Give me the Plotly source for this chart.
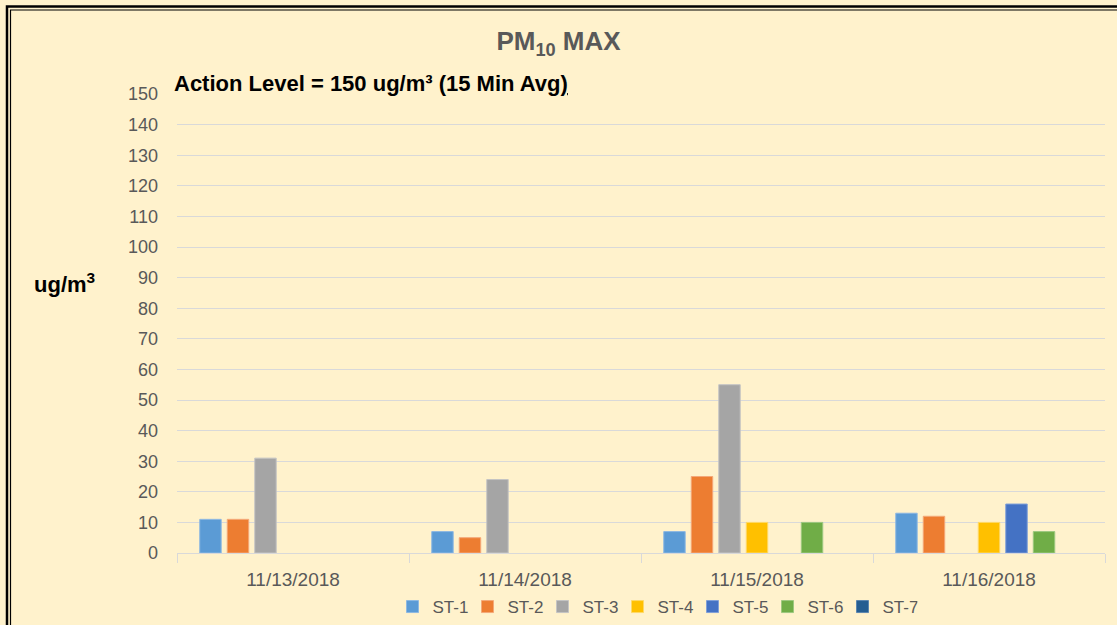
import plotly.graph_objects as go

dates = ["11/13/2018", "11/14/2018", "11/15/2018", "11/16/2018"]
stations = ["ST-1", "ST-2", "ST-3", "ST-4", "ST-5", "ST-6", "ST-7"]
st1 = [11, 7, 7, 13]
st2 = [11, 5, 25, 12]
st3 = [31, 24, 55, None]
st4 = [None, None, 10, 10]
st5 = [None, None, None, 16]
st6 = [None, None, 10, 7]
st7 = [None, None, None, None]
series = [st1, st2, st3, st4, st5, st6, st7]
colors = ["#5B9BD5", "#ED7D31", "#A5A5A5", "#FFC000", "#4472C4", "#70AD47", "#255E91"]
line_colors = ["#8DB8E2", "#F4A878", "#C4C4C4", "#FFD966", "#7F9FD8", "#9DC87F", "#5B86B0"]
y_ticks = list(range(0, 151, 10))

BG = "#FFF2CC"
FONT = "Liberation Sans, Arial, sans-serif"

fig = go.Figure()
for name, vals, c, lc in zip(stations, series, colors, line_colors):
    fig.add_trace(go.Bar(
        name=name, x=dates, y=vals,
        marker=dict(color=c, line=dict(color=lc, width=1)),
    ))

W, H = 1117, 625
L, R, T, B = 177, 12, 94, 72
pw, ph = W - L - R, H - T - B


def px(x):
    return (x - L) / pw


def py(y):
    return (H - B - y) / ph


fig.update_layout(
    width=W, height=H,
    margin=dict(l=L, r=R, t=T, b=B, autoexpand=False),
    paper_bgcolor=BG, plot_bgcolor=BG,
    barmode="group", bargap=0.17, bargroupgap=0.22,
    font=dict(family=FONT, color="#595959", size=18),
    title=dict(
        text="<b>PM<sub>10</sub> MAX</b>",
        x=0.5, xref="container", xanchor="center",
        y=1 - 41 / H, yref="container", yanchor="middle",
        font=dict(size=26, color="#595959", family=FONT),
    ),
    xaxis=dict(
        showgrid=False, showline=True, linecolor="#D9D9D9", linewidth=1,
        ticks="outside", tickson="boundaries", ticklen=9, tickcolor="#D9D9D9",
        tickfont=dict(size=19, color="#595959"), ticklabelstandoff=9,
    ),
    yaxis=dict(
        range=[0, 150], tickvals=y_ticks, showgrid=True, gridcolor="#D9D9D9",
        gridwidth=1, zeroline=False, showline=False,
        tickfont=dict(size=18, color="#595959"), ticklabelstandoff=18,
    ),
    legend=dict(
        orientation="h", x=px(655), xanchor="center",
        yref="container", y=1 - 607 / H, yanchor="middle",
        font=dict(size=17, color="#595959"), bgcolor="rgba(0,0,0,0)",
        itemwidth=30, tracegroupgap=0, entrywidth=30, entrywidthmode="pixels",
    ),
    showlegend=True,
)

fig.add_annotation(
    text="<b>Action Level = 150 ug/m³ (15 Min Av<span style=\"text-decoration:underline\">g)</span></b>",
    x=px(172), y=py(84), xref="paper", yref="paper",
    xanchor="left", yanchor="middle", showarrow=False,
    font=dict(size=22, color="#000000", family=FONT),
)
fig.add_annotation(
    text="<b>ug/m<sup>3</sup></b>",
    x=px(64), y=py(283), xref="paper", yref="paper",
    xanchor="center", yanchor="middle", showarrow=False,
    font=dict(size=22, color="#000000", family=FONT),
)

# double border around the chart area
fig.add_shape(type="rect", xref="paper", yref="paper",
              x0=px(7), y0=py(640), x1=px(1130), y1=py(6.5),
              line=dict(color="#000000", width=2.5), fillcolor="rgba(0,0,0,0)", layer="above")
fig.add_shape(type="rect", xref="paper", yref="paper",
              x0=px(10.5), y0=py(640), x1=px(1130), y1=py(10),
              line=dict(color="#000000", width=1.2), fillcolor="rgba(0,0,0,0)", layer="above")

fig.write_html("out.html", config={"displayModeBar": False},
               post_script="document.body.style.margin='0';document.body.style.padding='0';")
